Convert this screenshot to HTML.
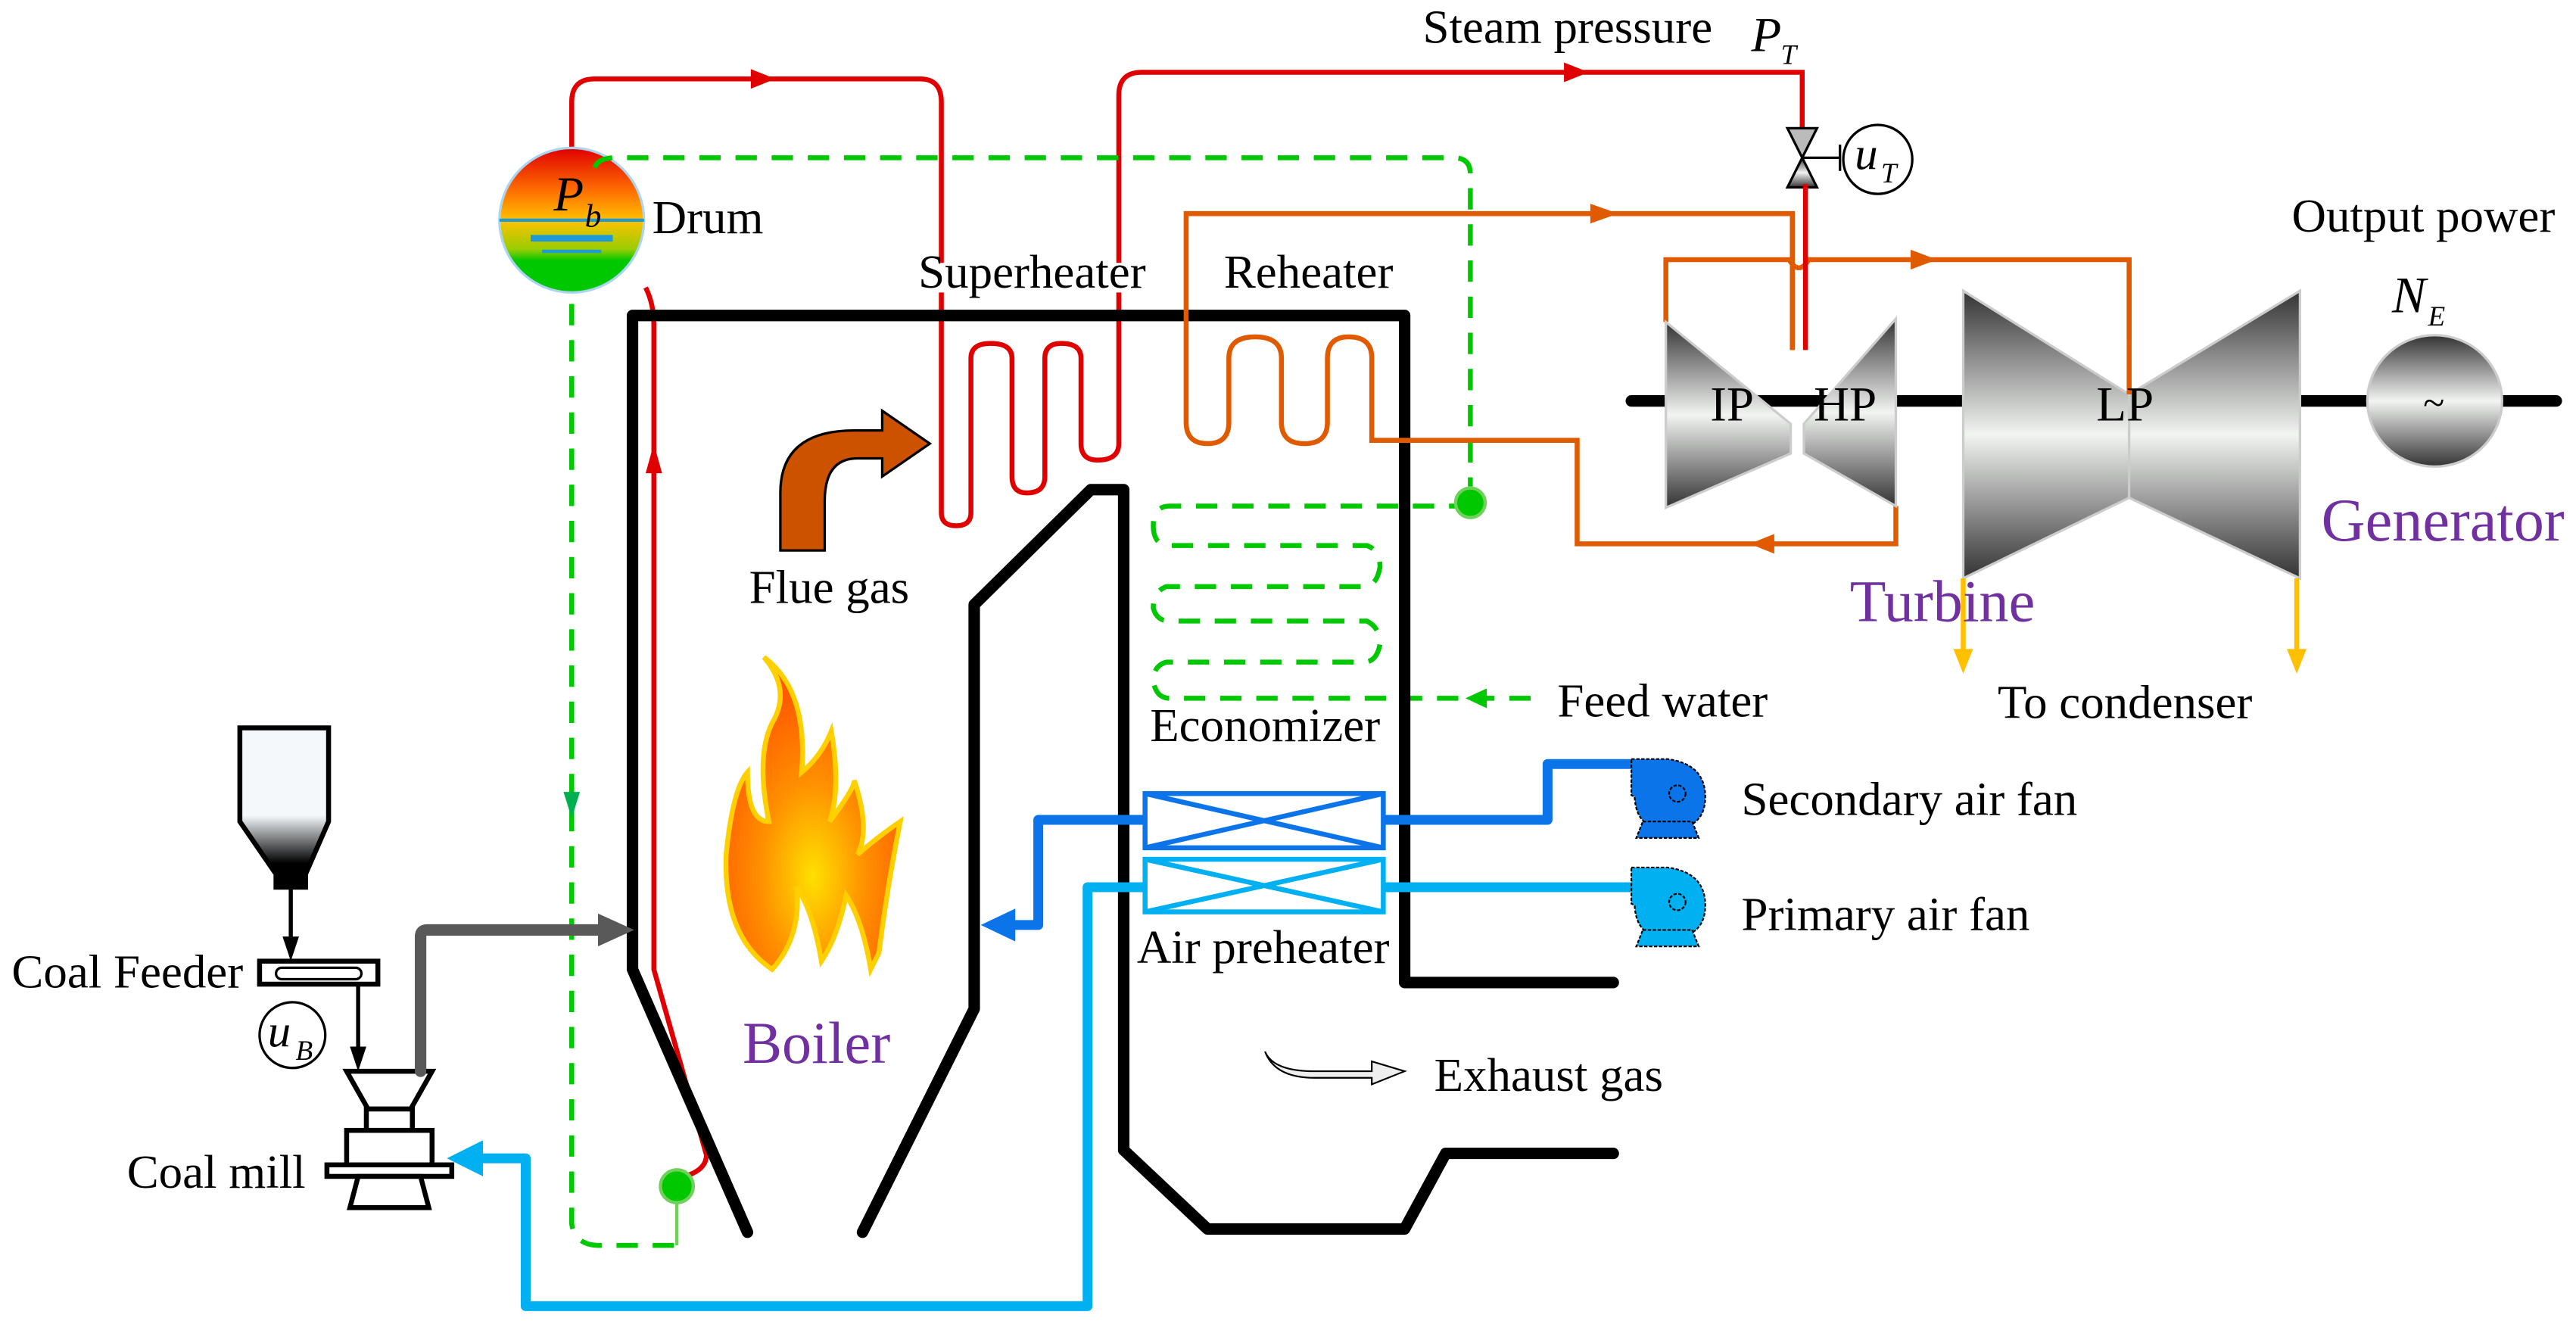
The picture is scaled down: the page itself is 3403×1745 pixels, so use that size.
<!DOCTYPE html>
<html><head><meta charset="utf-8"><style>
html,body{margin:0;padding:0;background:#fff;}
svg{display:block;}
text{font-family:"Liberation Serif",serif;}
</style></head><body>
<svg width="3403" height="1745" viewBox="0 0 1568 804" xmlns="http://www.w3.org/2000/svg">
<defs>
<linearGradient id="drum" x1="0" y1="0" x2="0" y2="1">
<stop offset="0" stop-color="#e00000"/><stop offset="0.3" stop-color="#ff7000"/><stop offset="0.5" stop-color="#ffc000"/><stop offset="0.7" stop-color="#9acd00"/><stop offset="0.78" stop-color="#00c800"/><stop offset="1" stop-color="#00c800"/>
</linearGradient>
<linearGradient id="metal" x1="0" y1="0" x2="0" y2="1">
<stop offset="0" stop-color="#333"/><stop offset="0.5" stop-color="#f2f4f2"/><stop offset="1" stop-color="#333"/>
</linearGradient>
<linearGradient id="hop" x1="0" y1="0" x2="0" y2="1">
<stop offset="0" stop-color="#f4f8fb"/><stop offset="0.55" stop-color="#f4f8fb"/><stop offset="0.85" stop-color="#000"/>
</linearGradient>
<radialGradient id="fl" cx="0.5" cy="0.7" r="0.6"><stop offset="0" stop-color="#ffe000"/><stop offset="0.5" stop-color="#ff9000"/><stop offset="1" stop-color="#ff5a00"/></radialGradient>
</defs>

<g fill="none" stroke="#e00000" stroke-width="3">
<path d="M348,92 V62 Q348,48 362,48 H560 Q573,48 573,62 V160"/>
<path d="M573,178 V312 Q573,320 582,320 Q591,320 591,312 V218 Q591,209 603,209 Q616,209 616,218 V290 Q616,300 625,300 Q636,300 636,290 V218 Q636,209 646,209 Q658,209 658,218 V270 Q658,280 668,280 Q681,280 681,270 V178"/>
<path d="M681,160 V58 Q681,44 695,44 H1097 V78"/>
<path d="M393,175 Q398,185 398,198 V590 L430,703 Q430,710 422,714 L415,717"/>
</g>
<polygon points="457,42 472,48 457,54" fill="#e00000"/>
<polygon points="952,38 967,44 952,50" fill="#e00000"/>
<polygon points="398,270 393,288 403,288" fill="#e00000"/>

<ellipse cx="348" cy="134" rx="44" ry="44" fill="url(#drum)" stroke="#aad4f0" stroke-width="1.5"/>
<line x1="304" y1="134" x2="392" y2="134" stroke="#1e9ad6" stroke-width="2"/>
<line x1="323" y1="145" x2="373" y2="145" stroke="#1e9ad6" stroke-width="4"/>
<line x1="330" y1="153" x2="366" y2="153" stroke="#1e9ad6" stroke-width="2"/>
<text x="337" y="128" font-size="30" font-style="italic">P</text><text x="356" y="138" font-size="20" font-style="italic">b</text>
<text x="397" y="142" font-size="29">Drum</text>

<g fill="none" stroke="#00c800" stroke-width="3" stroke-dasharray="13,9">
<path d="M362,102 Q364,96 375,96 H885 Q895,96 895,106 V296"/>
<path d="M348,185 V745 Q350,758 365,758 H415"/>
<path d="M895,308 H712 Q702,308 702,320 Q702,332 712,332 H832 Q840,335 840,345 Q838,357 830,357 H710 Q702,360 702,370 Q704,378 712,378 H832 Q840,382 840,392 Q838,403 830,403 H710 Q702,405 702,415 Q704,425 712,425 H940"/>
</g>
<polygon points="892,425 905,419 905,431" fill="#00c800"/>
<polygon points="343,482 353,482 348,498" fill="#00b050"/>
<circle cx="895" cy="306" r="9" fill="#00c800" stroke="#6fd05a" stroke-width="2"/>
<circle cx="412" cy="722" r="10" fill="#00c800" stroke="#6fd05a" stroke-width="2"/>
<line x1="412" y1="732" x2="412" y2="758" stroke="#6fd05a" stroke-width="2"/>

<g fill="none" stroke="#000" stroke-width="7" stroke-linejoin="round" stroke-linecap="round">
<path d="M455,750 L385,590 V192 H855 V598 H982"/>
<path d="M525,750 L593,614 V368 L664,298 H684 V700 L735,748 H855 L880,702 H982"/>
</g>

<g fill="none" stroke="#e05a00" stroke-width="3">
<path d="M975,130 H722 V257 Q722,270 735,270 Q748,270 748,257 V218 Q748,205 764,205 Q780,205 780,218 V257 Q780,270 794,270 Q808,270 808,257 V218 Q808,205 821,205 Q835,205 835,218 V268 H960 V331 H1154 V308"/>
<path d="M975,130 H1091 V213"/>
<path d="M1014,196 V158 H1089 Q1095,168 1101,158 H1296 V207"/>
</g>
<polygon points="968,124 985,130 968,136" fill="#e05a00"/>
<polygon points="1163,152 1179,158 1163,164" fill="#e05a00"/>
<polygon points="1080,325 1065,331 1080,337" fill="#e05a00"/>

<polygon points="1088,78 1106,78 1097,96" fill="#bbb" stroke="#000" stroke-width="1.5"/>
<polygon points="1088,114 1106,114 1097,96" fill="url(#metal)" stroke="#000" stroke-width="1.5"/>
<line x1="1097" y1="96" x2="1120" y2="96" stroke="#000" stroke-width="1.5"/>
<line x1="1120" y1="88" x2="1120" y2="104" stroke="#000" stroke-width="1.5"/>
<circle cx="1143" cy="97" r="21" fill="none" stroke="#000" stroke-width="1.5"/>
<text x="1129" y="103" font-size="28" font-style="italic">u</text><text x="1145" y="111" font-size="17" font-style="italic">T</text>
<text x="866" y="26" font-size="29">Steam pressure</text>
<text x="1066" y="31" font-size="30" font-style="italic">P</text><text x="1084" y="39" font-size="17" font-style="italic">T</text>

<line x1="993" y1="244" x2="1556" y2="244" stroke="#000" stroke-width="7" stroke-linecap="round"/>
<g stroke="#ccc" stroke-width="1.5" fill="url(#metal)">
<polygon points="1014,196 1090,258 1090,276 1014,309"/>
<polygon points="1098,258 1154,194 1154,308 1098,276"/>
<polygon points="1195,177 1296,240 1296,303 1195,352"/>
<polygon points="1296,240 1400,177 1400,352 1296,303"/>
<ellipse cx="1482" cy="244" rx="41" ry="40"/>
</g>
<g fill="none" stroke="#e05a00" stroke-width="3"><path d="M1091,158 V213"/><path d="M1296,158 V240"/></g>
<line x1="1099" y1="112" x2="1099" y2="213" stroke="#e00000" stroke-width="3"/>
<text x="1041" y="256" font-size="30">IP</text>
<text x="1104" y="256" font-size="30">HP</text>
<text x="1276" y="256" font-size="30">LP</text>
<text x="1475" y="253" font-size="24">~</text>
<g stroke="#ffc000" stroke-width="3"><line x1="1195" y1="352" x2="1195" y2="400"/><line x1="1398" y1="352" x2="1398" y2="400"/></g>
<polygon points="1189,395 1201,395 1195,410" fill="#ffc000"/>
<polygon points="1392,395 1404,395 1398,410" fill="#ffc000"/>
<text x="1395" y="141" font-size="29">Output power</text>
<text x="1456" y="190" font-size="31" font-style="italic">N</text><text x="1478" y="198" font-size="17" font-style="italic">E</text>
<text x="1413" y="329" font-size="37" fill="#7030a0">Generator</text>
<text x="1126" y="378" font-size="36" fill="#7030a0">Turbine</text>
<text x="1216" y="437" font-size="29">To condenser</text>

<text x="559" y="175" font-size="29">Superheater</text>
<text x="745" y="175" font-size="29">Reheater</text>
<text x="456" y="367" font-size="29">Flue gas</text>
<text x="700" y="451" font-size="29">Economizer</text>
<text x="948" y="436" font-size="29">Feed water</text>
<text x="692" y="586" font-size="29">Air preheater</text>
<text x="452" y="647" font-size="36" fill="#7030a0">Boiler</text>
<text x="873" y="664" font-size="29">Exhaust gas</text>
<path d="M770,640 Q775,652 800,652 H835 V646 L855,652 L835,660 V656 H800 Q776,656 770,640 Z" fill="#eee" stroke="#000" stroke-width="1"/>

<path d="M475,335 V300 Q475,262 520,262 H537 V250 L566,270 L537,290 V279 H522 Q502,279 502,305 V335 Z" fill="#cc5200" stroke="#000" stroke-width="1.5"/>

<path d="M470,590 Q440,570 442,520 Q446,480 455,470 Q455,500 468,500 Q460,460 470,440 Q482,420 465,400 Q492,420 488,470 Q500,460 506,445 Q512,480 505,500 Q520,480 520,475 Q530,505 522,520 Q536,508 548,500 Q540,540 535,580 L530,590 Q525,560 515,545 Q510,570 500,585 Q495,555 485,540 Q488,570 470,590 Z" fill="url(#fl)" stroke="#ffd000" stroke-width="3"/>

<g fill="none" stroke-width="3">
<g stroke="#0a74e8"><rect x="697" y="483" width="145" height="33"/><path d="M697,483 L842,516 M697,516 L842,483"/>
<path d="M842,499 H942 V465 H995 M697,499 H632 V563 H610" stroke-width="6" stroke-linejoin="round"/></g>
<g stroke="#00b0f0"><rect x="697" y="523" width="145" height="32"/><path d="M697,523 L842,555 M697,555 L842,523"/>
<path d="M842,540 H995 M697,540 H662 V795 H320 V705 H290" stroke-width="6" stroke-linejoin="round"/></g>
</g>
<polygon points="597,563 618,553 618,573" fill="#0a74e8"/>
<polygon points="272,705 294,694 294,716" fill="#00b0f0"/>

<g stroke="#000" stroke-width="1" stroke-dasharray="2,1">
<path d="M993,462 H1015 Q1038,465 1038,485 Q1038,505 1015,505 Q996,505 995,485 L993,484 Z" fill="#0a74e8"/>
<polygon points="1000,500 1030,500 1034,510 996,510" fill="#0a74e8"/>
<circle cx="1021" cy="483" r="5" fill="none"/>
<path d="M993,528 H1015 Q1038,531 1038,551 Q1038,571 1015,571 Q996,571 995,551 L993,550 Z" fill="#00b0f0"/>
<polygon points="1000,566 1030,566 1034,576 996,576" fill="#00b0f0"/>
<circle cx="1021" cy="549" r="5" fill="none"/>
</g>
<text x="1060" y="496" font-size="29">Secondary air fan</text>
<text x="1060" y="566" font-size="29">Primary air fan</text>

<polygon points="146,443 200,443 200,500 186,532 186,540 168,540 168,532 146,500" fill="url(#hop)" stroke="#000" stroke-width="3"/>
<line x1="177" y1="540" x2="177" y2="575" stroke="#000" stroke-width="2.5"/>
<polygon points="172,570 182,570 177,585" fill="#000"/>
<rect x="158" y="585" width="72" height="14" fill="#fff" stroke="#000" stroke-width="3"/>
<rect x="168" y="589" width="52" height="7" rx="3.5" fill="none" stroke="#000" stroke-width="1.5"/>
<text x="148" y="601" font-size="29" text-anchor="end">Coal Feeder</text>
<circle cx="178" cy="630" r="20" fill="none" stroke="#000" stroke-width="1.5"/>
<text x="163" y="637" font-size="28" font-style="italic">u</text><text x="180" y="645" font-size="17" font-style="italic">B</text>
<line x1="218" y1="599" x2="218" y2="640" stroke="#000" stroke-width="2.5"/>
<polygon points="213,637 223,637 218,652" fill="#000"/>
<g fill="#fff" stroke="#000" stroke-width="3">
<polygon points="211,652 263,652 250,675 224,675"/>
<rect x="223" y="675" width="28" height="13"/>
<rect x="211" y="688" width="52" height="27"/>
<rect x="199" y="709" width="76" height="7"/>
<polygon points="213,735 261,735 256,716 218,716"/>
</g>
<text x="186" y="723" font-size="29" text-anchor="end">Coal mill</text>
<path d="M256,652 V570 Q256,566 260,566 H366" fill="none" stroke="#595959" stroke-width="7" stroke-linecap="round"/>
<polygon points="364,556 386,566 364,576" fill="#595959"/>
</svg>
</body></html>
